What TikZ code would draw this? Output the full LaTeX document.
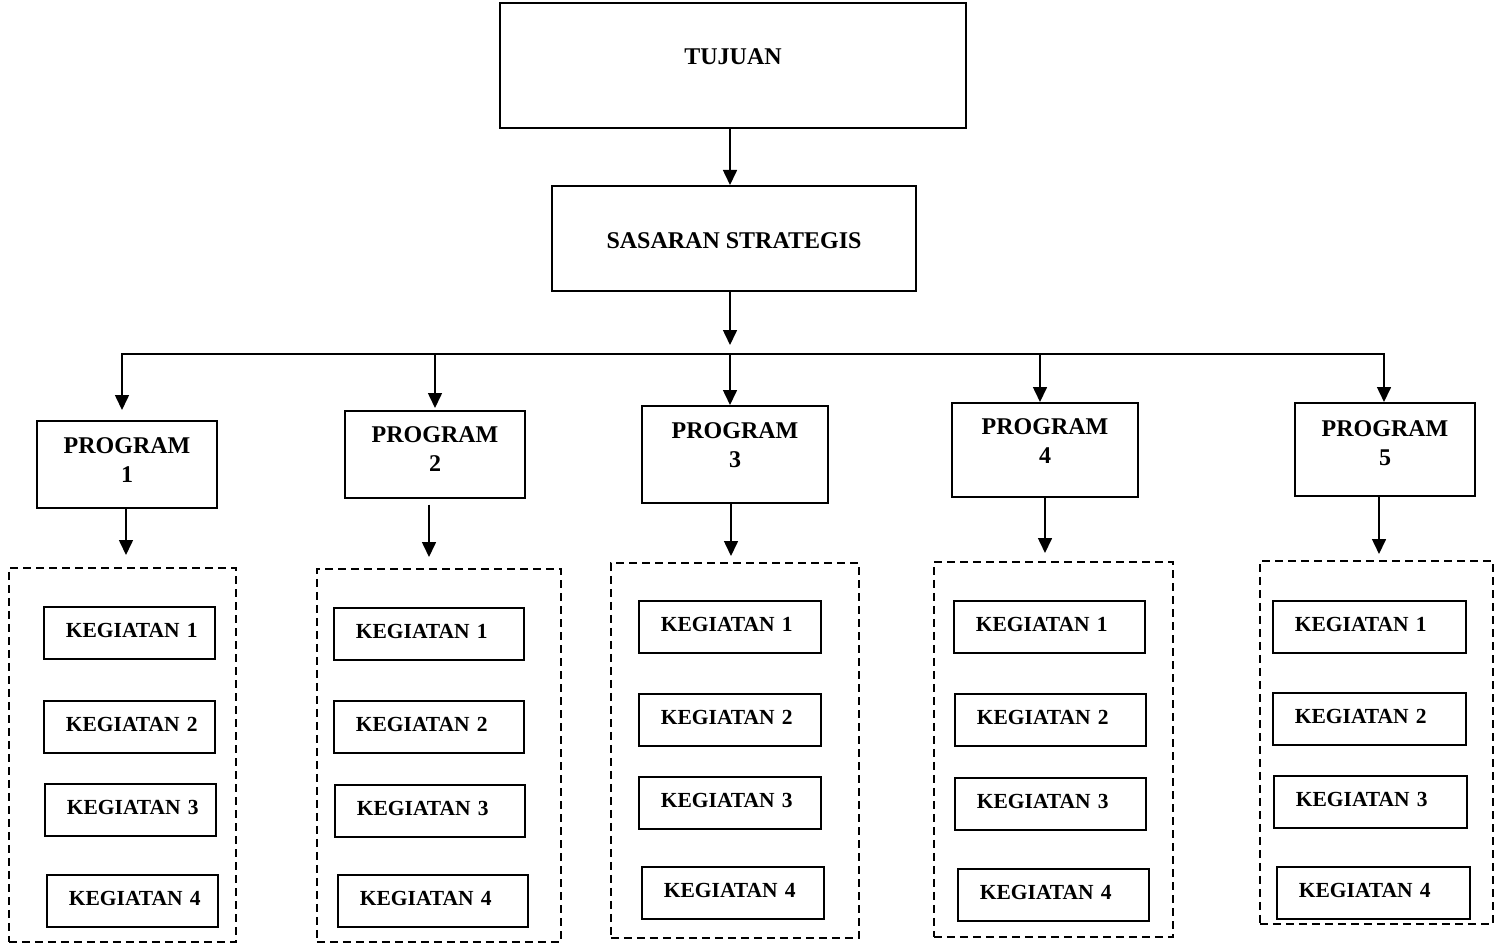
\documentclass[tikz,border=0pt]{standalone}
\usepackage{fontspec}
\setmainfont{Liberation Serif}
\usetikzlibrary{arrows.meta}

\begin{document}
\begin{tikzpicture}[x=1pt, y=-1pt,
    box/.style={draw, line width=1.7pt, inner sep=0pt, anchor=north, align=center,
        font=\fontsize{24}{29}\selectfont\bfseries},
    keg/.style={draw, line width=1.7pt, inner xsep=22pt, inner ysep=0pt, anchor=north west,
        align=left, text height=31pt, text depth=21pt, font=\fontsize{21.5}{24}\selectfont\bfseries},
    group/.style={draw, dash pattern=on 8pt off 5pt, line width=1.5pt, inner sep=0pt, anchor=north west},
    arr/.style={line width=1.6pt, -{Triangle[length=15pt, width=14pt]}}]
    \useasboundingbox (0,0) rectangle (1495,944);
    % top of the tree
    \node[box, minimum width=466pt, text height=62pt, text depth=63pt] (tujuan) at (733,2) {TUJUAN};
    \node[box, minimum width=364pt, text height=63pt, text depth=42pt] (sasaran) at (734,185) {SASARAN STRATEGIS};
    % programs
    \node[box, minimum width=180pt, text height=62pt, text depth=25pt] (p1) at (127,420) {PROGRAM\\1};
    \node[box, minimum width=180pt, text height=61pt, text depth=26pt] (p2) at (435,410) {PROGRAM\\2};
    \node[box, minimum width=186pt, text height=62pt, text depth=35pt] (p3) at (735,405) {PROGRAM\\3};
    \node[box, minimum width=186pt, text height=61pt, text depth=33pt] (p4) at (1045,402) {PROGRAM\\4};
    \node[box, minimum width=180pt, text height=63pt, text depth=30pt] (p5) at (1385,402) {PROGRAM\\5};
    % dashed groups
    \node[group, minimum width=227pt, minimum height=374pt] (d1) at (8,567) {};
    \node[group, minimum width=244pt, minimum height=373pt] (d2) at (316,568) {};
    \node[group, minimum width=248pt, minimum height=375pt] (d3) at (610,562) {};
    \node[group, minimum width=239pt, minimum height=375pt] (d4) at (933,561) {};
    \node[group, minimum width=233pt, minimum height=363pt] (d5) at (1259,560) {};
    % kegiatan
    \foreach \i/\x/\y in {1/43/606, 2/43/700, 3/44/783, 4/46/874}
        \node[keg, text width=127pt] (k1-\i) at (\x,\y) {\mbox{KEGIATAN \i}};
    \foreach \i/\x/\y in {1/333/607, 2/333/700, 3/334/784, 4/337/874}
        \node[keg, text width=146pt] (k2-\i) at (\x,\y) {\mbox{KEGIATAN \i}};
    \foreach \i/\x/\y in {1/638/600, 2/638/693, 3/638/776, 4/641/866}
        \node[keg, text width=138pt] (k3-\i) at (\x,\y) {\mbox{KEGIATAN \i}};
    \foreach \i/\x/\y in {1/953/600, 2/954/693, 3/954/777, 4/957/868}
        \node[keg, text width=147pt] (k4-\i) at (\x,\y) {\mbox{KEGIATAN \i}};
    \foreach \i/\x/\y in {1/1272/600, 2/1272/692, 3/1273/775, 4/1276/866}
        \node[keg, text width=149pt] (k5-\i) at (\x,\y) {\mbox{KEGIATAN \i}};
    % connectors
    \coordinate (b1) at (122,354);
    \coordinate (b2) at (435,354);
    \coordinate (b3) at (730,354);
    \coordinate (b4) at (1040,354);
    \coordinate (b5) at (1384,354);
    \draw[arr] (tujuan.south -| b3) -- (sasaran.north -| b3);
    \draw[arr, shorten >=9pt] (sasaran.south -| b3) -- (b3);
    \draw[arr, shorten >=10pt] (b3) -- (b1) -- (p1.north -| b1);
    \draw[arr] (b3) -- (b5) -- (p5.north -| b5);
    \draw[arr, shorten >=2pt] (b2) -- (p2.north -| b2);
    \draw[arr] (b3) -- (p3.north -| b3);
    \draw[arr] (b4) -- (p4.north -| b4);
    \coordinate (a1) at (126,530);
    \coordinate (a2) at (429,530);
    \coordinate (a3) at (731,530);
    \coordinate (a4) at (1045,530);
    \coordinate (a5) at (1379,530);
    \draw[arr, shorten >=12pt] (p1.south -| a1) -- (d1.north -| a1);
    \draw[arr, shorten <=6pt, shorten >=11pt] (p2.south -| a2) -- (d2.north -| a2);
    \draw[arr, shorten >=6pt] (p3.south -| a3) -- (d3.north -| a3);
    \draw[arr, shorten >=8pt] (p4.south -| a4) -- (d4.north -| a4);
    \draw[arr, shorten >=6pt] (p5.south -| a5) -- (d5.north -| a5);
\end{tikzpicture}
\end{document}
